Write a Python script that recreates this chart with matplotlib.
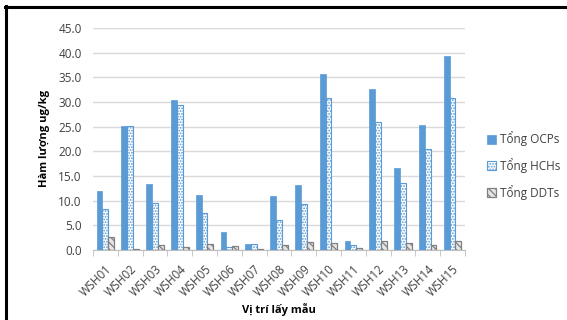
import numpy as np
import matplotlib
matplotlib.use("Agg")
import matplotlib.pyplot as plt
from matplotlib.lines import Line2D

plt.rcParams['font.family'] = ['Open Sans', 'DejaVu Sans']
plt.rcParams['hatch.linewidth'] = 0.9

sites = ["WSH01", "WSH02", "WSH03", "WSH04", "WSH05", "WSH06", "WSH07", "WSH08",
         "WSH09", "WSH10", "WSH11", "WSH12", "WSH13", "WSH14", "WSH15"]
ocps = [12.0, 25.2, 13.3, 30.4, 11.1, 3.6, 1.2, 11.0, 13.1, 35.7, 1.9, 32.6, 16.6, 25.3, 39.2]
hchs = [8.3, 25.2, 9.5, 29.3, 7.4, 0.6, 1.2, 6.0, 9.3, 30.7, 0.9, 25.9, 13.6, 20.5, 30.7]
ddts = [2.7, 0.2, 1.0, 0.6, 1.3, 0.8, 0.2, 1.0, 1.6, 1.4, 0.4, 1.8, 1.5, 0.9, 1.9]

blue = "#5B9BD5"
grey = "#808080"
text_col = "#404040"

fig = plt.figure(figsize=(5.67, 3.2), dpi=100)
ax = fig.add_axes([0.164, 0.219, 0.656, 0.694])

x = np.arange(len(sites))
w = 0.235
ax.bar(x - w, ocps, w, color=blue, edgecolor=blue, linewidth=0.5, label="Tổng OCPs", zorder=3)
ax.bar(x, hchs, w, color="white", edgecolor=blue, hatch="......", linewidth=0.8,
       label="Tổng HCHs", zorder=3)
ax.bar(x + w, ddts, w, color="#E6E6E6", edgecolor=grey, hatch="\\\\\\\\\\", linewidth=0.9,
       label="Tổng DDTs", zorder=3)

ax.set_xlim(-0.5, len(sites) - 0.5)
ax.set_ylim(0, 45)
ax.set_yticks(np.arange(0, 45.1, 5))
ax.set_yticklabels([f"{v:.1f}" for v in np.arange(0, 45.1, 5)])
ax.yaxis.grid(True, color="#D9D9D9", linewidth=1.0, zorder=0)
ax.set_axisbelow(True)

ax.set_xticks(x)
ax.set_xticklabels(sites, rotation=45, ha="right", rotation_mode="anchor")
ax.set_xticks(np.arange(-0.5, len(sites), 1), minor=True)
ax.tick_params(axis="x", which="major", length=0, pad=9, labelsize=8.3, colors=text_col)
ax.tick_params(axis="x", which="minor", length=4, color="#BFBFBF")
ax.tick_params(axis="y", length=0, pad=8, labelsize=8.5, colors=text_col)

for s in ["top", "right", "left"]:
    ax.spines[s].set_visible(False)
ax.spines["bottom"].set_color("#BFBFBF")

ax.set_ylabel("Hàm lượng ug/kg", fontsize=8, fontweight="bold", color="black", labelpad=6)
ax.set_xlabel("Vị trí lấy mẫu", fontsize=8, fontweight="bold", color="black", labelpad=3)

leg = ax.legend(loc="center left", bbox_to_anchor=(1.03, 0.38), frameon=False,
                fontsize=8.5, handlelength=0.8, handleheight=0.8, handletextpad=0.3,
                labelspacing=1.0, labelcolor=text_col)

# frame lines of the original screenshot
fig.add_artist(Line2D([6 / 567, 6 / 567], [0, 1 - 6 / 320], color="black", linewidth=2.2))
fig.add_artist(Line2D([5 / 567, 1], [1 - 6.5 / 320, 1 - 6.5 / 320], color="black", linewidth=2.2))

fig.savefig("out.png", dpi=100)
